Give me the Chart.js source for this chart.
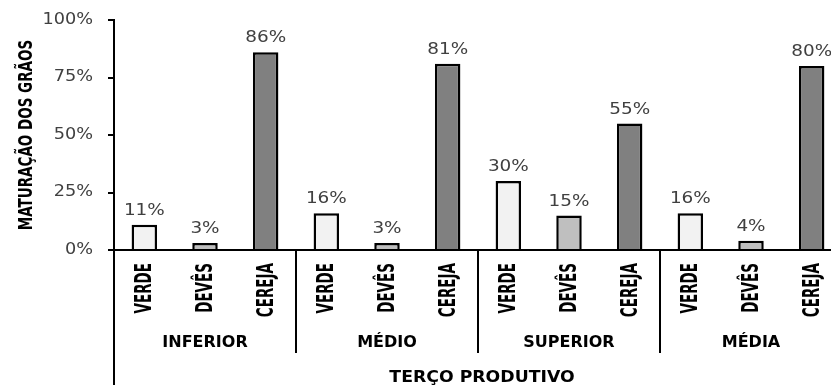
<!DOCTYPE html>
<html>
<head>
<meta charset="utf-8">
<script src="https://cdn.jsdelivr.net/npm/chart.js@4/dist/chart.umd.min.js"></script>
<style>
    html, body { margin: 0; padding: 0; background: #fff; overflow: hidden; }
    #wrap { width: 842px; height: 385px; }
</style>
</head>
<body>
<div id="wrap"><canvas id="chartBars"></canvas></div>
<script>
'use strict';

const groups = ['INFERIOR', 'MÉDIO', 'SUPERIOR', 'MÉDIA'];
const stages = ['VERDE', 'DEVÊS', 'CEREJA'];
const values = [11, 3, 86, 16, 3, 81, 30, 15, 55, 16, 4, 80];
const yTicks = [0, 25, 50, 75, 100];

const stageColors = ['#F2F2F2', '#BFBFBF', '#808080'];
const narrowBold = '"Liberation Sans Narrow", "DejaVu Sans Condensed", sans-serif';

let labels = [];
groups.forEach(() => stages.forEach(s => labels.push(s)));

// Text in the source picture is a bit wider than the fonts here, so stretch it
function wideText(ctx, text, x, y, sx) {
    ctx.save();
    ctx.translate(x, y);
    ctx.scale(sx, 1);
    ctx.fillText(text, 0, 0);
    ctx.restore();
}

const extras = {
    id: 'extras',
    afterDatasetsDraw(chart) {
        const ctx = chart.ctx;
        const meta = chart.getDatasetMeta(0);
        ctx.save();
        ctx.font = '16px "DejaVu Sans"';
        ctx.fillStyle = '#404040';
        ctx.textAlign = 'center';
        ctx.textBaseline = 'alphabetic';
        meta.data.forEach((bar, i) => {
            wideText(ctx, values[i] + '%', bar.x, bar.y - 10, 1.15);
        });
        ctx.restore();
    },
    afterDraw(chart) {
        const ctx = chart.ctx;
        const area = chart.chartArea;
        const x = chart.scales.x;
        const y = chart.scales.y;
        const step = x.getPixelForValue(1) - x.getPixelForValue(0);

        ctx.save();

        // y tick labels
        ctx.font = '15px "DejaVu Sans"';
        ctx.fillStyle = '#404040';
        ctx.textAlign = 'right';
        ctx.textBaseline = 'middle';
        yTicks.forEach(v => wideText(ctx, v + '%', 93, y.getPixelForValue(v), 1.18));

        ctx.strokeStyle = '#000';
        ctx.lineWidth = 2;

        // left axis runs down to the bottom
        ctx.beginPath();
        ctx.moveTo(area.left, area.bottom);
        ctx.lineTo(area.left, chart.height);
        ctx.stroke();

        // stage names, vertical and condensed
        ctx.fillStyle = '#000';
        ctx.font = 'bold 15px ' + narrowBold;
        chart.data.labels.forEach((lab, i) => {
            ctx.save();
            ctx.translate(x.getPixelForValue(i) + 1, area.bottom + 13);
            ctx.rotate(-Math.PI / 2);
            ctx.scale(1, 1.55);
            ctx.fillText(lab, 0, 0);
            ctx.restore();
        });

        // group separators and group names
        ctx.font = 'bold 16px "DejaVu Sans"';
        ctx.textAlign = 'center';
        groups.forEach((g, i) => {
            const start = x.getPixelForValue(i * 3) - step / 2;
            const end = x.getPixelForValue(i * 3 + 2) + step / 2;
            ctx.beginPath();
            ctx.moveTo(end, area.bottom);
            ctx.lineTo(end, 353);
            ctx.stroke();
            ctx.fillText(g, (start + end) / 2, 343);
        });

        // axis titles
        wideText(ctx, 'TERÇO PRODUTIVO', 482, 378, 1.08);

        ctx.translate(27, (area.top + area.bottom) / 2);
        ctx.rotate(-Math.PI / 2);
        ctx.scale(1, 1.25);
        ctx.font = 'bold 15px ' + narrowBold;
        ctx.fillText('MATURAÇÃO DOS GRÃOS', 0, 0);
        ctx.restore();
    }
};

const ctx = document.getElementById('chartBars').getContext('2d');

new Chart(ctx, {
    type: 'bar',
    data: {
        labels: labels,
        datasets: [{
            data: values,
            backgroundColor: labels.map((_, i) => stageColors[i % 3]),
            borderColor: '#000',
            borderWidth: 2.5,
            barPercentage: 0.42,
            categoryPercentage: 1
        }]
    },
    options: {
        responsive: true,
        maintainAspectRatio: false,
        animation: false,
        layout: {padding: {top: 20, right: 0, left: 0, bottom: 0}},
        plugins: {
            legend: {display: false},
            tooltip: {enabled: false}
        },
        scales: {
            x: {
                grid: {display: false},
                border: {display: true, color: '#000', width: 2},
                ticks: {display: false},
                afterFit: axis => { axis.height = 135; }
            },
            y: {
                min: 0,
                max: 100,
                afterBuildTicks: axis => { axis.ticks = yTicks.map(v => ({value: v})); },
                grid: {display: true, drawOnChartArea: false, drawTicks: true, tickLength: 6, color: '#000', lineWidth: 2},
                border: {display: true, color: '#000', width: 2},
                ticks: {display: false},
                afterFit: axis => { axis.width = 114; }
            }
        }
    },
    plugins: [extras]
});
</script>
</body>
</html>
